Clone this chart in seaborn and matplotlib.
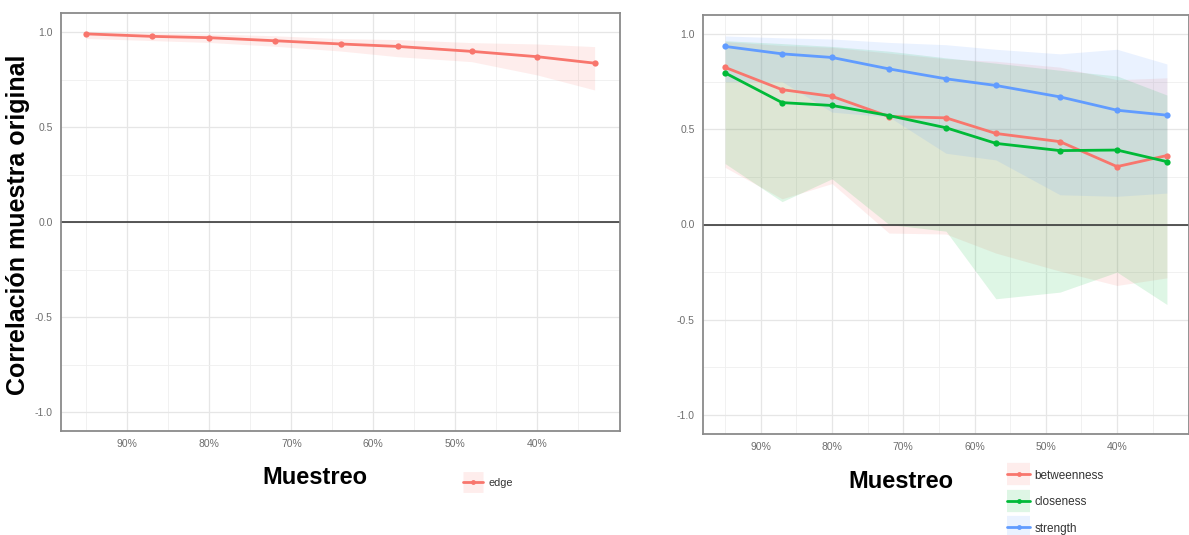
import matplotlib
matplotlib.use("Agg")
import matplotlib.pyplot as plt
import numpy as np
import pandas as pd
import seaborn as sns
from matplotlib.lines import Line2D
from matplotlib.ticker import FixedLocator

# ---------------- data ----------------
prop = [95, 87, 80, 72, 64, 57, 48, 40, 33]   # % of sample retained

edge_mean = [0.990, 0.977, 0.970, 0.954, 0.937, 0.924, 0.898, 0.870, 0.836]
edge_lo   = [0.966, 0.955, 0.945, 0.925, 0.900, 0.870, 0.844, 0.774, 0.695]
edge_hi   = [1.000, 0.995, 0.990, 0.980, 0.965, 0.960, 0.944, 0.937, 0.923]

betweenness = [0.825, 0.708, 0.673, 0.567, 0.560, 0.478, 0.435, 0.304, 0.362]
betw_lo     = [0.300, 0.135, 0.215, -0.045, -0.050, -0.150, -0.245, -0.320, -0.280]
betw_hi     = [0.960, 0.940, 0.930, 0.900, 0.870, 0.857, 0.826, 0.760, 0.770]

closeness = [0.796, 0.640, 0.625, 0.572, 0.508, 0.426, 0.388, 0.391, 0.330]
clos_lo   = [0.320, 0.120, 0.240, 0.000, -0.035, -0.390, -0.355, -0.250, -0.420]
clos_hi   = [0.965, 0.950, 0.935, 0.910, 0.875, 0.847, 0.810, 0.780, 0.680]

strength = [0.935, 0.896, 0.877, 0.817, 0.765, 0.730, 0.670, 0.600, 0.574]
str_lo   = [0.750, 0.750, 0.590, 0.565, 0.374, 0.339, 0.156, 0.148, 0.165]
str_hi   = [0.990, 0.980, 0.974, 0.956, 0.944, 0.920, 0.896, 0.920, 0.843]

measures = ["betweenness", "closeness", "strength"]
x_ticks = [90, 80, 70, 60, 50, 40]
x_tick_labels = ["90%", "80%", "70%", "60%", "50%", "40%"]
y_ticks = [-1.0, -0.5, 0.0, 0.5, 1.0]
y_tick_labels = ["-1.0", "-0.5", "0.0", "0.5", "1.0"]

colors = {"edge": "#F8766D", "betweenness": "#F8766D",
          "closeness": "#00BA38", "strength": "#619CFF"}

df_left = pd.DataFrame({"prop": prop, "value": edge_mean, "lo": edge_lo,
                        "hi": edge_hi, "measure": "edge"})
df_right = pd.concat([
    pd.DataFrame({"prop": prop, "value": betweenness, "lo": betw_lo, "hi": betw_hi, "measure": "betweenness"}),
    pd.DataFrame({"prop": prop, "value": closeness, "lo": clos_lo, "hi": clos_hi, "measure": "closeness"}),
    pd.DataFrame({"prop": prop, "value": strength, "lo": str_lo, "hi": str_hi, "measure": "strength"}),
], ignore_index=True)

# ---------------- style ----------------
sns.set_style("white")
plt.rcParams["font.family"] = ["Liberation Sans", "DejaVu Sans"]

W, H = 1189, 535
fig = plt.figure(figsize=(W / 100, H / 100), dpi=100)
axL = fig.add_axes([61 / W, 1 - 431 / H, 559 / W, 418 / H])
axR = fig.add_axes([703 / W, 1 - 434 / H, 486 / W, 419 / H])

BAND_ALPHA = 0.13


def style_axis(ax, tick_fs):
    ax.set_xlim(98.1, 29.9)
    ax.set_ylim(-1.1, 1.1)
    ax.set_xticks(x_ticks)
    ax.set_xticklabels(x_tick_labels)
    ax.set_yticks(y_ticks)
    ax.set_yticklabels(y_tick_labels)
    ax.xaxis.set_minor_locator(FixedLocator([95, 85, 75, 65, 55, 45, 35]))
    ax.yaxis.set_minor_locator(FixedLocator([-0.75, -0.25, 0.25, 0.75]))
    ax.grid(which="major", color="#e6e6e6", lw=0.9, zorder=0)
    ax.grid(which="minor", color="#efefef", lw=0.6, zorder=0)
    ax.set_axisbelow(True)
    ax.tick_params(axis="both", which="major", labelsize=tick_fs, colors="#666666",
                   length=3, width=0.8, pad=3, labelcolor="#6e6e6e")
    ax.tick_params(axis="both", which="minor", length=0)
    for s in ax.spines.values():
        s.set_color("#8a8a8a")
        s.set_linewidth(1.3)
    ax.axhline(0, color="#3a3a3a", lw=1.2, zorder=2)
    ax.set_xlabel("")
    ax.set_ylabel("")


# ---------------- left panel ----------------
axL.fill_between(df_left["prop"], df_left["lo"], df_left["hi"],
                 color=colors["edge"], alpha=BAND_ALPHA, lw=0, zorder=1)
sns.lineplot(data=df_left, x="prop", y="value", hue="measure", palette=colors,
             marker="o", markersize=4.5, markeredgewidth=0, linewidth=2.0,
             legend=False, ax=axL, zorder=3)
style_axis(axL, 7.5)

# ---------------- right panel ----------------
for m in measures:
    d = df_right[df_right["measure"] == m]
    axR.fill_between(d["prop"], d["lo"], d["hi"], color=colors[m],
                     alpha=BAND_ALPHA, lw=0, zorder=1)
sns.lineplot(data=df_right, x="prop", y="value", hue="measure",
             hue_order=measures, palette=colors,
             marker="o", markersize=4.5, markeredgewidth=0, linewidth=2.0,
             legend=False, ax=axR, zorder=3)
style_axis(axR, 7.5)

# ---------------- titles ----------------
fig.text(18 / W, 1 - 225 / H, "Correlación muestra original", rotation=90,
         ha="center", va="center", fontsize=18, fontweight="bold", color="black")
fig.text(315 / W, 1 - 477 / H, "Muestreo", ha="center", va="center",
         fontsize=17, fontweight="bold", color="black")
fig.text(901 / W, 1 - 482 / H, "Muestreo", ha="center", va="center",
         fontsize=17, fontweight="bold", color="black")


# ---------------- legends ----------------
def key(c, box_lw):
    return (Line2D([], [], color=c, alpha=BAND_ALPHA, lw=box_lw, solid_capstyle="butt"),
            Line2D([], [], color=c, lw=2.0, marker="o", ms=3.5, mew=0))


fig.legend(handles=[key(colors["edge"], 15)], labels=["edge"],
           loc="center left", bbox_to_anchor=(463 / W, 1 - 483 / H),
           frameon=False, fontsize=7.8, handlelength=1.85, handleheight=1.0,
           handletextpad=0.55, borderpad=0, borderaxespad=0, labelcolor="#333333")

fig.legend(handles=[key(colors[m], 16) for m in measures], labels=measures,
           loc="center left", bbox_to_anchor=(1007 / W, 1 - 502 / H),
           frameon=False, fontsize=8.5, handlelength=1.95, handleheight=1.0,
           handletextpad=0.35, labelspacing=1.2, borderpad=0, borderaxespad=0,
           labelcolor="#333333")

fig.savefig("out.png", dpi=100)
